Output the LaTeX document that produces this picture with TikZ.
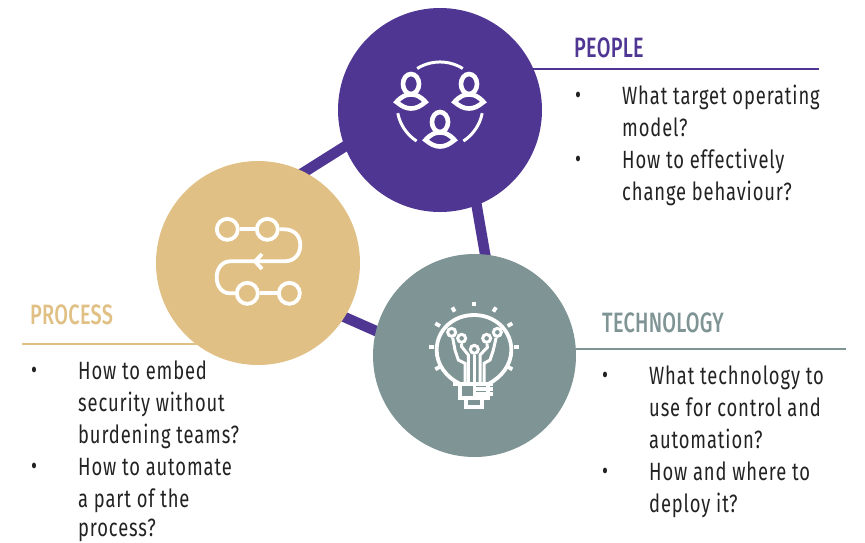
\documentclass[tikz,border=0pt]{standalone}
\usepackage{fontspec}
\setmainfont[FakeStretch=0.735,LetterSpace=3.5]{Fira Sans}
\newfontfamily\headfont[FakeStretch=0.71,LetterSpace=1,BoldFont={Fira Sans Medium}]{Fira Sans Medium}
\usetikzlibrary{backgrounds}
\definecolor{pplc}{HTML}{4F3693}
\definecolor{proc}{HTML}{E0C084}
\definecolor{tecc}{HTML}{7F9494}
\definecolor{txtc}{HTML}{222222}
\tikzset{
  hub/.style={circle,inner sep=0pt,minimum size=#1},
  link/.style={draw=pplc,line width=10.5pt,shorten >=-6pt,shorten <=-6pt},
  rulea/.style={line width=2.4pt},
  icon/.style={draw=white,line width=3.8pt,fill=none},
  thinicon/.style={draw=white,line width=3pt,fill=none},
  head/.style={anchor=base west,inner sep=0pt,font=\headfont\fontsize{28}{28}\selectfont},
  body/.style={anchor=base west,inner sep=0pt,text=txtc,font=\fontsize{25}{25}\selectfont},
  bull/.style={anchor=base,inner sep=0pt,text=txtc,font=\fontsize{25}{25}\selectfont},
  zoomed/.style={shift={#1},x=.33333pt,y=-.33333pt}
}
\newcommand{\personicon}[1]{%
  \begin{scope}[shift={#1}]
    \draw[icon,line width=4.6pt] (0,0) ellipse[x radius=8pt,y radius=10pt];
    \draw[icon,line width=4.6pt] (-14.5,18) .. controls (-9,12) and (-5,10.5) .. (0,10.5)
      .. controls (5,10.5) and (9,12) .. (14.5,18)
      .. controls (9,22.5) and (5,24.5) .. (0,24.5)
      .. controls (-5,24.5) and (-9,22.5) .. (-14.5,18) -- cycle;
  \end{scope}}
\begin{document}
\begin{tikzpicture}[x=1pt,y=-1pt]
\useasboundingbox (0,0) rectangle (865,542);
\node[hub=204pt,fill=pplc] (people) at (440,110) {};
\node[hub=204pt,fill=proc] (process) at (258,263) {};
\node[hub=203pt,fill=tecc] (tech) at (474.5,355.5) {};
\begin{scope}[on background layer]
  \draw[link] (people.201) -- (process.63);
  \draw[link] (people.-69) -- (tech.84);
  \draw[link] (process.-32) -- (tech.166);
\end{scope}
% people icon
\draw[thinicon] (417.2,68.5) arc[start angle=122,end angle=58,radius=43pt];
\draw[thinicon] (397.8,113.2) arc[start angle=191,end angle=237,radius=43pt];
\draw[thinicon] (482.2,113.2) arc[start angle=-11,end angle=-57,radius=43pt];
\personicon{(411,84)}
\personicon{(469,84)}
\personicon{(440,122)}
% process icon
\begin{scope}[zoomed={(195,200)}]
  \foreach \n/\x/\y in {p1/97/88,p2/217/88,p3/157/280,p4/283/280}
    \node[draw=white,line width=3.8pt,circle,inner sep=0pt,minimum size=21pt] (\n) at (\x,\y) {};
  \draw[icon] (p1) -- (p2);
  \draw[icon] (p3) -- (p4);
  \draw[icon] (p2.east) -- (268,88) .. controls (298,88) and (316,108) .. (316,135)
     .. controls (316,163) and (298,184) .. (268,184) -- (105,184)
     .. controls (82,184) and (65,205) .. (65,232)
     .. controls (65,260) and (82,280) .. (105,280) -- (p3.west);
  \draw[icon] (201,162) -- (180,184) -- (201,207);
\end{scope}
% technology icon
\begin{scope}[zoomed={(410,290)}]
  \draw[icon] (150,282) .. controls (110,262) and (80,225) .. (80,180)
     .. controls (80,120) and (130,75) .. (192,75)
     .. controls (254,75) and (304,120) .. (304,180)
     .. controls (304,225) and (274,262) .. (235,282);
  \draw[icon] (130,282) -- (250,282);
  \draw[icon] (150,282) -- (150,325) -- (235,325) -- (235,282);
  \draw[icon] (195,296) -- (250,296);
  \draw[icon] (195,313) -- (250,313);
  \draw[icon] (168,325) -- (168,352) -- (215,352) -- (215,325);
  \foreach \n/\x/\y in {a/125/127,b/155/145,c/193/178,d/230/145,e/262/127}
    \node[draw=white,line width=3pt,circle,inner sep=0pt,minimum size=8pt] (d\n) at (\x,\y) {};
  \draw[thinicon] (dc) -- (193,325);
  \draw[thinicon] (db) -- (155,170) -- (175,195) -- (175,282);
  \draw[thinicon] (da) -- (135,180) -- (145,210) -- (165,220) -- (165,282);
  \draw[thinicon] (dd) -- (232,172) -- (210,195) -- (210,282);
  \draw[thinicon] (de) -- (250,180) -- (240,210) -- (222,220) -- (222,282);
  \foreach \a/\b/\c/\d in {192/35/192/48,127/52/134/65,258/52/250/65,76/100/90/108,307/100/293/108,58/170/72/170,312/170/327/170,76/238/90/230,307/238/293/230}
    \draw[icon] (\a,\b) -- (\c,\d);
\end{scope}
% rules
\coordinate (pr) at (819,69);
\coordinate (gr) at (22,344);
\coordinate (tr) at (846,349);
\begin{scope}[on background layer]
\draw[rulea,draw=pplc] (people.center |- pr) -- (pr);
\draw[rulea,draw=proc] (process.center |- gr) -- (gr);
\draw[rulea,draw=tecc] (tech.center |- tr) -- (tr);
\end{scope}
% people text
\node[head,text=pplc] (h1) at (574,57) {PEOPLE};
\node[bull] (b11) at (578,103) {•};
\node[body] (t11) at (622,104) {What target operating};
\node[body] (t12) at (622,136) {model?};
\node[bull] (b12) at (578,167) {•};
\node[body] (t13) at (622,168) {How to effectively};
\node[body] (t14) at (622,200) {change behaviour?};
% process text
\node[head,text=proc] (h2) at (30,324) {PROCESS};
\node[bull] (b21) at (34,378) {•};
\node[body] (t21) at (78,379) {How to embed};
\node[body] (t22) at (78,411) {security without};
\node[body] (t23) at (78,443) {burdening teams?};
\node[bull] (b22) at (34,474) {•};
\node[body] (t24) at (78,475) {How to automate};
\node[body] (t25) at (78,507) {a part of the};
\node[body] (t26) at (78,536.5) {process?};
% technology text
\node[head,text=tecc] (h3) at (602,332) {TECHNOLOGY};
\node[bull] (b31) at (605,383) {•};
\node[body] (t31) at (649,384) {What technology to};
\node[body] (t32) at (649,416) {use for control and};
\node[body] (t33) at (649,448) {automation?};
\node[bull] (b32) at (605,479) {•};
\node[body] (t34) at (649,480) {How and where to};
\node[body] (t35) at (649,512) {deploy it?};
\end{tikzpicture}
\end{document}
